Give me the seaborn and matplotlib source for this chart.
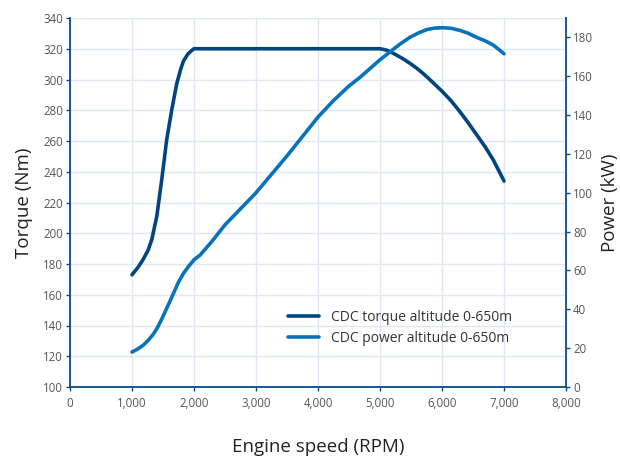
import matplotlib
matplotlib.use("Agg")
import matplotlib.pyplot as plt
import matplotlib.ticker as mticker
import seaborn as sns
import pandas as pd

torque_rpm = [1000, 1100, 1180, 1260, 1320, 1400, 1480, 1560, 1640, 1720, 1780, 1830, 1900, 1960, 2000,
              3000, 4000, 5000, 5100, 5215, 5350, 5485, 5620, 5750, 5880, 6010, 6150, 6290, 6420, 6560, 6700, 6830, 7000]
torque_nm = [173, 178, 183, 189, 196, 211, 235, 261, 280, 297, 306, 312, 316.5, 318.8, 320,
             320, 320, 320, 319.2, 317, 314, 310.5, 306.5, 302, 297, 292, 286, 279, 272, 264, 256, 247.5, 234]

power_rpm = [1000, 1090, 1180, 1260, 1340, 1410, 1480, 1610, 1750, 1830, 1910, 2000, 2100, 2290, 2500, 3000, 3500,
             4000, 4250, 4500, 4680, 5000, 5160, 5320, 5480, 5620, 5750, 5880, 6010, 6150, 6290, 6420, 6560, 6700, 6830, 7000]
power_kw = [18, 19.5, 21.5, 24, 27, 30.5, 35, 44, 54, 58.5, 62, 65.5, 68, 75, 83.5, 100, 119,
            139, 147.5, 155, 159.5, 168.5, 172.5, 176.5, 180, 182.3, 184, 184.8, 185, 184.7, 183.6, 182.2, 180, 178.2, 176, 171.6]

x_ticks = [0, 1000, 2000, 3000, 4000, 5000, 6000, 7000, 8000]
torque_ticks = list(range(100, 341, 20))
power_ticks = list(range(0, 181, 20))

torque_label = "CDC torque altitude 0-650m"
power_label = "CDC power altitude 0-650m"

sns.set_theme(style="white")
plt.rcParams['font.family'] = ['Open Sans', 'DejaVu Sans']

spine_c = "#0b4a86"
torque_c = "#00457e"
power_c = "#0872bb"
tick_c = "#555555"

fig = plt.figure(figsize=(6.2, 4.61), dpi=100)
ax = fig.add_axes([70/620, 1 - 387/461, (566-70)/620, (387-18)/461])
ax2 = ax.twinx()

df_t = pd.DataFrame({"rpm": torque_rpm, "val": torque_nm})
df_p = pd.DataFrame({"rpm": power_rpm, "val": power_kw})

sns.lineplot(data=df_t, x="rpm", y="val", ax=ax, color=torque_c, lw=2.6,
             label=torque_label, legend=False, solid_capstyle="round",
             solid_joinstyle="round")
sns.lineplot(data=df_p, x="rpm", y="val", ax=ax2, color=power_c, lw=2.6,
             label=power_label, legend=False, solid_capstyle="round",
             solid_joinstyle="round")

ax.set_xlim(0, 8000)
ax.set_ylim(100, 340)
ax2.set_ylim(0, 190)
ax.set_xticks(x_ticks)
ax.set_yticks(torque_ticks)
ax2.set_yticks(power_ticks)
ax.xaxis.set_major_formatter(mticker.FuncFormatter(lambda v, p: f"{int(v):,}"))

ax.grid(True, color="#dfe7f4", lw=1.0)
ax.set_axisbelow(True)
ax2.grid(False)

for a in (ax, ax2):
    for s in a.spines.values():
        s.set_color(spine_c)
        s.set_linewidth(1.3)
    a.spines['top'].set_visible(False)
ax2.spines['left'].set_visible(False)
ax2.spines['bottom'].set_visible(False)
ax.spines['right'].set_visible(False)

ax.tick_params(axis='x', direction='out', length=3, width=1, color=spine_c,
               labelcolor=tick_c, labelsize=8.3, pad=4, bottom=True)
ax.tick_params(axis='y', direction='out', length=3, width=1, color=spine_c,
               labelcolor=tick_c, labelsize=8.3, pad=2, left=True)
ax2.tick_params(axis='y', direction='out', length=3, width=1, color=spine_c,
                labelcolor=tick_c, labelsize=8.3, pad=2, right=True)

ax.set_xlabel("Engine speed (RPM)", fontsize=13.5, color="#222222", labelpad=20)
ax.set_ylabel("Torque (Nm)", fontsize=13.5, color="#222222", labelpad=7)
ax2.set_ylabel("Power (kW)", fontsize=13.5, color="#222222", labelpad=6)

h1, l1 = ax.get_legend_handles_labels()
h2, l2 = ax2.get_legend_handles_labels()
leg = ax2.legend(h1 + h2, l1 + l2, loc="center left",
                 bbox_to_anchor=((275 - 70) / 496, 1 - (328 - 18) / 369),
                 frameon=False, fontsize=10, handlelength=2.3, handletextpad=0.8,
                 labelspacing=0.45, labelcolor="#333333")

fig.savefig("out.png", dpi=100)
